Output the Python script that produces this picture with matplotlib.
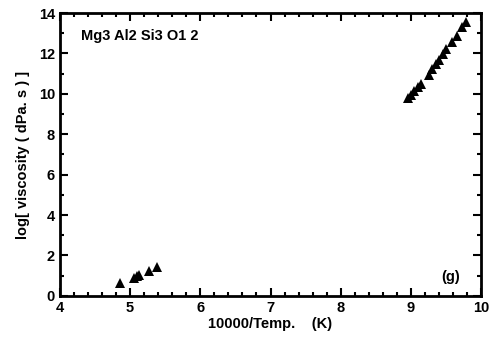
import matplotlib
matplotlib.use("Agg")
import matplotlib.pyplot as plt
from matplotlib.ticker import MultipleLocator

plt.rcParams['font.family'] = ['Liberation Sans', 'DejaVu Sans']
plt.rcParams['font.weight'] = 'bold'

# high temperature cluster
x_low = [4.86, 5.05, 5.10, 5.13, 5.27, 5.38]
y_low = [0.62, 0.88, 0.98, 1.05, 1.22, 1.45]
# high viscosity cluster
x_high = [8.96, 9.00, 9.05, 9.10, 9.15, 9.25, 9.30, 9.35, 9.40, 9.45,
          9.50, 9.58, 9.65, 9.73, 9.78]
y_high = [9.80, 9.95, 10.15, 10.35, 10.50, 10.95, 11.25, 11.50, 11.70, 11.95,
          12.20, 12.55, 12.85, 13.30, 13.55]

fig = plt.figure(figsize=(4.91, 3.44), dpi=100)
ax = fig.add_axes([0.122, 0.140, 0.858, 0.822])

ax.plot(x_low, y_low, '^', color='black', ms=7, mew=0)
ax.plot(x_high, y_high, '^', color='black', ms=7, mew=0)

ax.set_xlim(4, 10)
ax.set_ylim(0, 14)
ax.xaxis.set_major_locator(MultipleLocator(1))
ax.xaxis.set_minor_locator(MultipleLocator(0.2))
ax.yaxis.set_major_locator(MultipleLocator(2))
ax.yaxis.set_minor_locator(MultipleLocator(1))
ax.tick_params(which='both', direction='in', top=True, right=True, width=1.5, labelsize=10.5)
ax.tick_params(which='major', length=6)
ax.tick_params(which='minor', length=3)
for s in ax.spines.values():
    s.set_linewidth(2)

ax.set_xlabel('10000/Temp.    (K)', fontsize=10.5, fontweight='bold', labelpad=2)
ax.set_ylabel('log[ viscosity ( dPa. s ) ]', fontsize=10.5, fontweight='bold', labelpad=6)

ax.text(0.05, 0.92, 'Mg3 Al2 Si3 O1 2', transform=ax.transAxes, fontsize=10.5,
        fontweight='bold', va='center')
ax.text(0.95, 0.065, '(g)', transform=ax.transAxes, fontsize=10.5,
        fontweight='bold', ha='right', va='center')

fig.savefig('out.png', dpi=100)
